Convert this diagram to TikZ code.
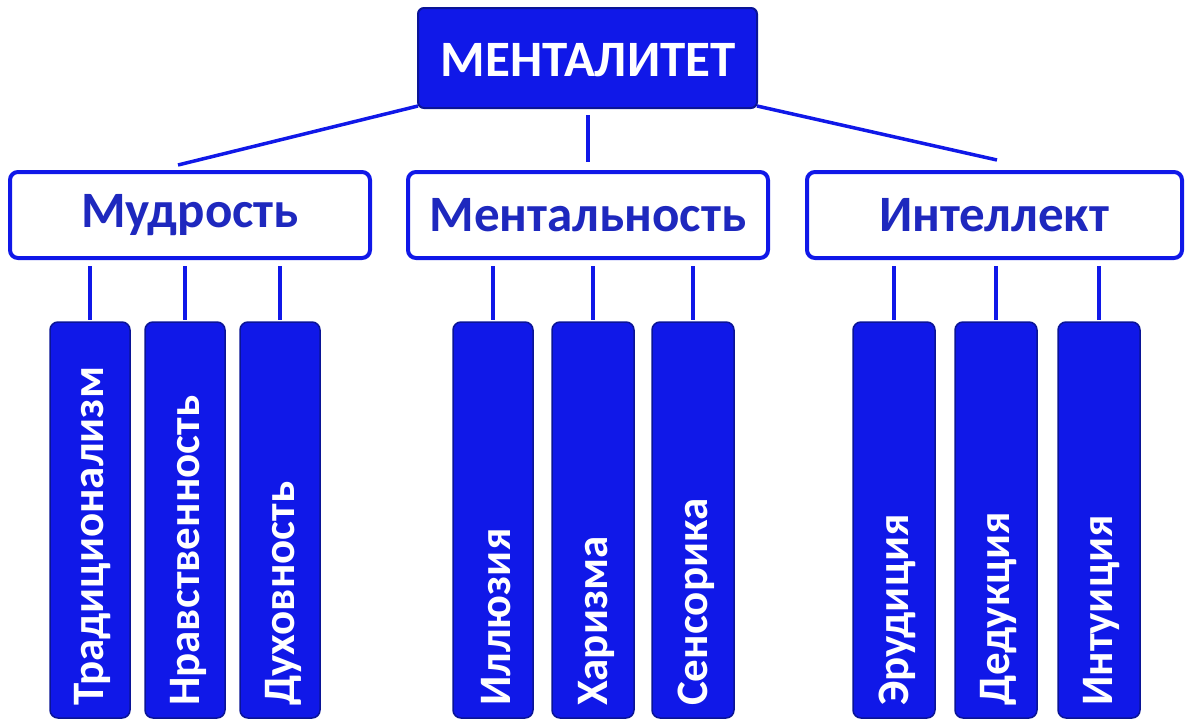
\documentclass[tikz,border=0pt]{standalone}
\usepackage{fontspec}
\setmainfont{Carlito}
\definecolor{fillb}{RGB}{16,24,232}
\definecolor{edgeb}{RGB}{10,20,150}
\definecolor{txtb}{RGB}{30,40,190}
\tikzset{
 topbox/.style={draw=edgeb,line width=2pt,fill=fillb,rounded corners=6pt},
 midbox/.style={draw=fillb,line width=4pt,fill=white,rounded corners=8pt},
 leaf/.style={draw=edgeb,line width=1.5pt,fill=fillb,rounded corners=8pt},
 conn/.style={draw=fillb,line width=3.5pt},
 leaftxt/.style={rotate=90,anchor=west,text=white,font=\bfseries\fontsize{45}{45}\selectfont,inner sep=0pt},
 midtxt/.style={text=txtb,font=\bfseries\fontsize{51}{51}\selectfont}
}
\begin{document}
\begin{tikzpicture}[x=1pt,y=-1pt]
\useasboundingbox (0,0) rectangle (1200,728);
\path[topbox] (418,8) rectangle (757,108);
\node[text=white,font=\bfseries\fontsize{51}{51}\selectfont] (top) at (588,60) {МЕНТАЛИТЕТ};
\path[midbox] (10,172) rectangle (370,258);
\node[midtxt] (m1) at (190,215) {Мудрость};
\path[midbox] (408,172) rectangle (768,258);
\node[midtxt] (m2) at (588,215) {Ментальность};
\path[midbox] (807,172) rectangle (1182,258);
\node[midtxt] (m3) at (994,215) {Интеллект};
\coordinate (a1) at (418,106); \coordinate (a2) at (178,165);
\coordinate (b1) at (588,115); \coordinate (b2) at (588,162);
\coordinate (c1) at (757,106); \coordinate (c2) at (997,160);
\draw[conn] (a1)--(a2); \draw[conn] (b1)--(b2); \draw[conn] (c1)--(c2);
\foreach \x/\l/\r/\t in {
 90/50/130/Традиционализм,185/145/225/Нравственность,280/240/320/Духовность,
 493/453/533/Иллюзия,593/552/634/Харизма,693/652/734/Сенсорика,
 894/853/935/Эрудиция,996/955/1037/Дедукция,1099/1058/1140/Интуиция}{
 \path[leaf] (\l,322) rectangle (\r,718);
 \coordinate (u\x) at (\x,266); \coordinate (d\x) at (\x,320);
 \draw[conn] (u\x)--(d\x);
 \node[leaftxt] (t\x) at (\x+3,706) {\t};
}
\end{tikzpicture}
\end{document}
